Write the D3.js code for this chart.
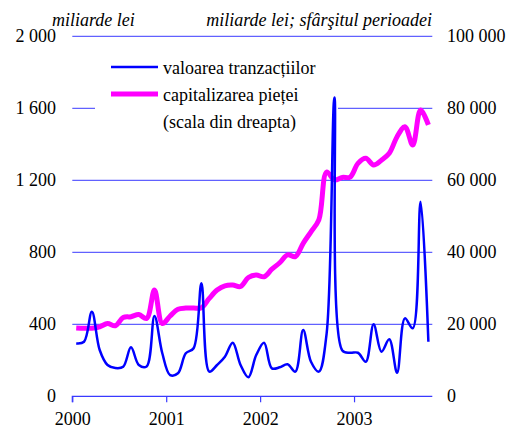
<!doctype html>
<html>
  <head>
    <meta charset="utf-8">
    <script src="https://cdnjs.cloudflare.com/ajax/libs/d3/7.8.5/d3.min.js"></script>
    <style>
      body { margin: 0; background: #fff; }
      svg text { font-family: "Times New Roman", "Liberation Serif", "DejaVu Serif", serif; fill: #000; }
    </style>
  </head>
  <body>
    <svg id="chart" width="525" height="432"></svg>
    <script>
      // monthly values, Jan 2000 .. Oct 2003
      var tranzactii = [294, 303, 470, 257, 174, 157, 164, 272, 174, 166,
                        446, 239, 118, 128, 239, 267, 628, 137, 174, 220,
                        298, 174, 106, 229, 298, 155, 161, 178, 137, 368,
                        192, 137, 350, 1660, 255, 242, 242, 192, 400, 248,
                        317, 131, 433, 378, 1081, 303];
      var capitalizare = [19000, 18900, 18900, 19300, 20200, 19600, 21900, 22100, 22700, 21600,
                          29500, 20200, 22300, 24200, 24500, 24500, 24600, 27200, 29500, 30700,
                          30900, 30500, 33000, 33700, 33200, 35300, 37100, 39300, 38800, 42500,
                          45700, 49000, 62300, 60100, 60800, 60900, 64700, 66100, 64250, 65600,
                          67500, 72100, 74900, 69800, 79500, 75400];
      var years = [2000, 2001, 2002, 2003];
      var leftTicks = [0, 400, 800, 1200, 1600, 2000];
      var rightTicks = [0, 20000, 40000, 60000, 80000, 100000];

      var serif = "'Times New Roman', 'Liberation Serif', serif";
      var svg = d3.select("#chart").attr("font-family", serif);
      var x = d3.scaleLinear().domain([0, 46]).range([72.3, 432.3]);
      var yL = d3.scaleLinear().domain([0, 2000]).range([396.3, 36.3]);
      var yR = d3.scaleLinear().domain([0, 100000]).range([396.3, 36.3]);
      var fmt = function(v) { return d3.format(",")(v).replace(/,/g, " "); };

      // grid
      svg.append("g").selectAll("line")
        .data(leftTicks.filter(d => d > 0)).enter().append("line")
          .attr("x1", x(0)).attr("x2", x(46))
          .attr("y1", d => yL(d)).attr("y2", d => yL(d))
          .attr("stroke", "#3a3aff").attr("stroke-width", 1);

      // bottom axis
      var xAxis = d3.axisBottom(x)
        .tickValues(years.map(y => (y - 2000) * 12))
        .tickFormat(d => 2000 + d / 12)
        .tickSize(6).tickPadding(10);
      var gx = svg.append("g").attr("transform", "translate(0," + yL(0) + ")").call(xAxis)
        .attr("font-family", serif).attr("font-size", 18);
      gx.selectAll("line, path").attr("stroke", "#3a3aff").attr("stroke-width", 1.2);
      gx.select(".domain").attr("d", "M" + x(0) + ",6V0H" + x(46));
      gx.selectAll("text").attr("fill", "#000");

      // left / right labels
      svg.append("g").selectAll("text")
        .data(leftTicks).enter().append("text")
          .attr("x", 56).attr("y", d => yL(d) + 6)
          .attr("text-anchor", "end").attr("font-size", 18)
          .text(fmt);
      svg.append("g").selectAll("text")
        .data(rightTicks).enter().append("text")
          .attr("x", 447).attr("y", d => yR(d) + 6)
          .attr("font-size", 18)
          .text(fmt);

      svg.append("text").attr("x", 52).attr("y", 26).attr("font-size", 18)
        .attr("font-style", "italic").text("miliarde lei");
      svg.append("text").attr("x", 432).attr("y", 26).attr("text-anchor", "end")
        .attr("font-size", 18).attr("font-style", "italic")
        .text("miliarde lei; sfârşitul perioadei");

      // legend background hides the grid
      svg.append("rect").attr("x", 95).attr("y", 50).attr("width", 243).attr("height", 88)
        .attr("fill", "#fff");

      var lineL = d3.line().x((d, i) => x(i + 0.5)).y(d => yL(d)).curve(d3.curveCatmullRom.alpha(0.5));
      var lineR = d3.line().x((d, i) => x(i + 0.5)).y(d => yR(d)).curve(d3.curveCatmullRom.alpha(0.5));

      svg.append("path").datum(capitalizare).attr("d", lineR)
        .attr("fill", "none").attr("stroke", "#ff00ff").attr("stroke-width", 5)
        .attr("stroke-linejoin", "round");
      svg.append("path").datum(tranzactii).attr("d", lineL)
        .attr("fill", "none").attr("stroke", "#0000ff").attr("stroke-width", 2.5)
        .attr("stroke-linejoin", "round");

      // legend
      var leg = svg.append("g");
      leg.append("line").attr("x1", 111).attr("x2", 158).attr("y1", 67).attr("y2", 67)
        .attr("stroke", "#0000ff").attr("stroke-width", 2.5);
      leg.append("line").attr("x1", 111).attr("x2", 158).attr("y1", 94).attr("y2", 94)
        .attr("stroke", "#ff00ff").attr("stroke-width", 5);
      leg.append("text").attr("x", 163).attr("y", 74).attr("font-size", 18).text("valoarea tranzacțiilor");
      leg.append("text").attr("x", 163).attr("y", 101).attr("font-size", 18).text("capitalizarea pieței");
      leg.append("text").attr("x", 163).attr("y", 128).attr("font-size", 18).text("(scala din dreapta)");
    </script>
  </body>
</html>
